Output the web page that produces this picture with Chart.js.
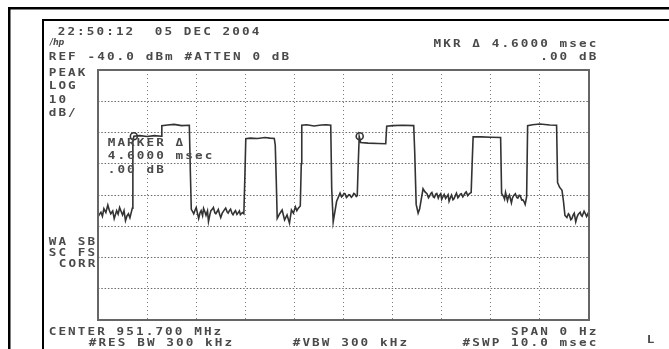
<!DOCTYPE html>
<html>
<head>
<meta charset="utf-8">
<script src="https://cdn.jsdelivr.net/npm/chart.js@4.4.1/dist/chart.umd.min.js"></script>
<style>
  html, body { margin: 0; padding: 0; background: #fff; }
  #wrap { width: 669px; height: 349px; }
</style>
</head>
<body>
<div id="wrap"><canvas id="sa" width="669" height="349"></canvas></div>
<script>
// =========================
// SPECTRUM ANALYZER ZERO-SPAN TRACE
// =========================
// Sweep time (ms) and level (dBm).

const sweepTimes = [
    0.00, 0.03, 0.06, 0.09, 0.12, 0.16, 0.20, 0.23, 0.26, 0.30, 0.33, 0.38, 0.41, 0.44, 0.47,
    0.50, 0.53, 0.56, 0.59, 0.62, 0.65, 0.68, 0.70,
    0.71, 0.73, 0.85, 1.00, 1.15, 1.29, 1.30, 1.42, 1.55, 1.70, 1.86, 1.88,
    1.90, 1.93, 1.95, 1.98, 2.00, 2.03, 2.05, 2.08, 2.10, 2.13, 2.15, 2.18, 2.20, 2.23, 2.25,
    2.28, 2.30, 2.33, 2.35, 2.38, 2.40, 2.43, 2.45, 2.48, 2.50, 2.53, 2.55, 2.58, 2.60, 2.63,
    2.65, 2.68, 2.70, 2.73, 2.75, 2.78, 2.80, 2.83, 2.85, 2.88, 2.90, 2.94, 2.97, 2.99,
    3.01, 3.10, 3.25, 3.40, 3.50, 3.59, 3.61, 3.63,
    3.65, 3.70, 3.75, 3.80, 3.85, 3.90, 3.94, 3.98, 4.02, 4.05, 4.08, 4.12, 4.14,
    4.15, 4.25, 4.40, 4.55, 4.65, 4.74, 4.76, 4.79, 4.86,
    4.93, 4.96, 4.98, 5.01, 5.03, 5.06, 5.08, 5.11, 5.13, 5.16, 5.18, 5.21, 5.23, 5.26, 5.28, 5.30,
    5.32, 5.35, 5.50, 5.70, 5.86, 5.88, 6.00, 6.20, 6.43, 6.45, 6.48, 6.52, 6.55, 6.62,
    6.66, 6.70, 6.73, 6.75, 6.78, 6.80, 6.83, 6.85, 6.88, 6.90, 6.93, 6.95, 6.98, 7.00, 7.03,
    7.05, 7.08, 7.10, 7.13, 7.15, 7.18, 7.20, 7.23, 7.25, 7.28, 7.30, 7.33, 7.35, 7.38, 7.40,
    7.43, 7.45, 7.48, 7.50, 7.53, 7.55, 7.58, 7.60, 7.62,
    7.64, 7.80, 8.00, 8.20, 8.22,
    8.26, 8.28, 8.30, 8.34, 8.36, 8.38, 8.42, 8.44, 8.46, 8.50, 8.53, 8.55, 8.58, 8.60, 8.63,
    8.65, 8.68, 8.70, 8.73,
    8.75, 8.85, 9.00, 9.20, 9.34, 9.36, 9.40, 9.45, 9.48, 9.51,
    9.55, 9.58, 9.60, 9.63, 9.65, 9.68, 9.70, 9.73, 9.76, 9.78, 9.82, 9.84, 9.86, 9.90, 9.93,
    9.95, 9.98, 10.00
];

const traceLevels = [
    -87.0, -86.2, -85.5, -86.8, -84.4, -85.6, -83.2, -84.9, -86.0, -85.1, -87.6, -85.0, -86.1, -84.0, -85.2,
    -86.4, -85.0, -88.2, -86.7, -86.0, -87.3, -85.4, -84.2,
    -63.0, -61.2, -61.0, -61.3, -61.0, -61.2, -57.8, -57.6, -57.4, -57.8, -57.7, -72.0,
    -84.6, -85.4, -86.0, -84.7, -84.0, -86.1, -87.5, -85.6, -85.0, -86.6, -84.3, -85.5, -86.5, -85.1, -88.5,
    -86.2, -85.0, -84.5, -84.0, -85.7, -86.0, -85.2, -84.6, -86.3, -87.2, -85.8, -85.3, -84.6, -84.2, -85.4,
    -85.8, -84.9, -84.5, -85.9, -86.3, -85.4, -85.0, -86.2, -85.8, -85.1, -86.3, -85.6, -86.0, -75.0,
    -62.0, -61.8, -61.9, -61.6, -61.8, -61.9, -64.0, -75.0,
    -87.5, -86.0, -84.8, -88.0, -86.4, -89.0, -84.8, -85.8, -83.8, -85.0, -84.2, -83.5, -70.0,
    -57.7, -57.5, -57.9, -57.6, -57.5, -57.7, -78.0, -88.6, -82.0,
    -79.4, -80.6, -80.3, -79.5, -79.6, -80.8, -80.5, -79.9, -80.0, -80.7, -80.4, -79.5, -79.7, -80.5, -80.2, -70.0,
    -61.3, -63.2, -63.4, -63.5, -63.6, -58.0, -57.8, -57.7, -57.8, -66.0, -83.0, -85.8, -84.5, -78.0,
    -79.0, -79.6, -80.9, -80.4, -79.5, -79.2, -80.6, -80.8, -79.7, -79.5, -81.0, -80.2, -79.6, -81.4, -80.4,
    -79.8, -81.1, -80.6, -79.9, -82.0, -80.7, -80.0, -81.5, -81.2, -80.1, -79.4, -80.9, -80.5, -79.7, -79.6,
    -80.6, -80.1, -79.3, -79.0, -80.2, -79.8, -79.4, -79.2, -70.0,
    -61.4, -61.4, -61.5, -61.6, -79.5,
    -80.5, -81.3, -79.2, -81.8, -80.6, -80.0, -82.5, -81.0, -80.3, -79.6, -80.8, -81.0, -80.1, -80.2, -81.6,
    -81.5, -82.2, -83.0, -80.5,
    -57.8, -57.5, -57.3, -57.6, -57.7, -76.0, -77.5, -78.5, -82.0, -86.5,
    -87.2, -86.0, -86.4, -87.9, -87.6, -86.3, -85.8, -88.6, -86.9, -86.2, -85.5, -86.4, -86.8, -85.2, -86.1,
    -86.9, -85.9, -87.4
];

// Marker and delta marker (4.6 ms apart, 0.00 dB)
const markerTimes = [0.73, 5.33];
const markerLevels = [-61.2, -61.2];

// Graticule: 10 ms sweep, REF -40 dBm, 10 dB/div
const timeGrid = [0, 1, 2, 3, 4, 5, 6, 7, 8, 9, 10];
const levelGrid = [-120, -110, -100, -90, -80, -70, -60, -50, -40];

const inkGray = '#4a4a4a';
const PITCH = 9.7;
const GLYPH_STRETCH = 1.15;

// Helper: write text on a fixed character pitch like the analyzer font
function drawMono(ctx, str, x, y) {
    for (let i = 0; i < str.length; i++) {
        ctx.save();
        ctx.translate(x + i * PITCH + 3.5, y);
        ctx.scale(GLYPH_STRETCH, 1);
        ctx.fillText(str[i], 0, 0);
        ctx.restore();
    }
}

// Helper: same, but right edge of last glyph at xEnd
function drawMonoRight(ctx, str, xEnd, y) {
    drawMono(ctx, str, xEnd - (str.length - 1) * PITCH - 7, y);
}

// Screen frames and annotation text
const screenPlugin = {
    id: 'screen',
    beforeDraw(chart) {
        const ctx = chart.ctx;
        ctx.save();
        ctx.fillStyle = '#fff';
        ctx.fillRect(0, 0, chart.width, chart.height);
        // outer and inner black bezel lines
        ctx.fillStyle = '#000';
        ctx.fillRect(8, 7, chart.width - 8, 2.5);
        ctx.fillRect(8, 7, 2.5, chart.height - 7);
        ctx.fillRect(42, 19, chart.width - 42, 2);
        ctx.fillRect(42, 19, 2, chart.height - 19);
        ctx.restore();
    },
    afterDatasetsDraw(chart) {
        const ctx = chart.ctx;
        const a = chart.chartArea;
        ctx.save();
        ctx.strokeStyle = '#666';
        ctx.lineWidth = 2;
        ctx.strokeRect(a.left, a.top, a.right - a.left, a.bottom - a.top);

        ctx.fillStyle = inkGray;
        ctx.font = 'bold 11px "DejaVu Sans Mono"';
        ctx.textAlign = 'center';
        ctx.textBaseline = 'middle';

        drawMono(ctx, '22:50:12  05 DEC 2004', 58, 32);
        drawMono(ctx, 'REF -40.0 dBm #ATTEN 0 dB', 49, 57);
        drawMonoRight(ctx, 'MKR \u0394 4.6000 msec', 596, 44);
        drawMonoRight(ctx, '.00 dB', 596, 57);

        drawMono(ctx, 'PEAK', 49, 73);
        drawMono(ctx, 'LOG', 49, 86);
        drawMono(ctx, '10', 49, 100);
        drawMono(ctx, 'dB/', 49, 113);

        drawMono(ctx, 'WA SB', 49, 242);
        drawMono(ctx, 'SC FS', 49, 253);
        drawMono(ctx, 'CORR', 59, 264);

        drawMono(ctx, 'MARKER \u0394', 108, 143);
        drawMono(ctx, '4.6000 msec', 108, 156);
        drawMono(ctx, '.00 dB', 108, 170);

        drawMono(ctx, 'CENTER 951.700 MHz', 49, 332);
        drawMonoRight(ctx, 'SPAN 0 Hz', 596, 332);
        drawMono(ctx, '#RES BW 300 kHz', 89, 343);
        drawMono(ctx, '#VBW 300 kHz', 293, 343);
        drawMonoRight(ctx, '#SWP 10.0 msec', 596, 343);
        drawMono(ctx, 'L', 647, 340);

        // hp logo
        ctx.font = 'italic bold 8px "DejaVu Sans"';
        ctx.textAlign = 'left';
        ctx.fillText('/hp', 50, 43);
        ctx.restore();
    }
};

const tracePoints = sweepTimes.map((t, i) => ({ x: t, y: traceLevels[i] }));
const markerPoints = markerTimes.map((t, i) => ({ x: t, y: markerLevels[i] }));

new Chart(document.getElementById('sa'), {
    type: 'line',
    data: {
        datasets: [{
            label: 'Trace A',
            data: tracePoints,
            borderColor: '#333',
            borderWidth: 1.6,
            pointRadius: 0,
            tension: 0
        }, {
            label: 'Markers',
            data: markerPoints,
            showLine: false,
            pointStyle: 'circle',
            pointRadius: 3.5,
            pointBorderWidth: 1.6,
            pointBackgroundColor: '#fff',
            pointBorderColor: '#333'
        }]
    },
    options: {
        responsive: false,
        animation: false,
        devicePixelRatio: 1,
        layout: { padding: { left: 98, top: 70, right: 80, bottom: 29 } },
        plugins: {
            legend: { display: false },
            tooltip: { enabled: false }
        },
        scales: {
            x: {
                type: 'linear',
                min: 0,
                max: 10,
                afterBuildTicks: axis => { axis.ticks = timeGrid.map(v => ({ value: v })); },
                ticks: { display: false },
                grid: { color: '#7a7a7a', lineWidth: 1, drawTicks: false },
                border: { display: false, dash: [1, 3] }
            },
            y: {
                type: 'linear',
                min: -120,
                max: -40,
                afterBuildTicks: axis => { axis.ticks = levelGrid.map(v => ({ value: v })); },
                ticks: { display: false },
                grid: { color: '#6a6a6a', lineWidth: 1, drawTicks: false },
                border: { display: false, dash: [1.5, 1.8] }
            }
        }
    },
    plugins: [screenPlugin]
});
</script>
</body>
</html>
